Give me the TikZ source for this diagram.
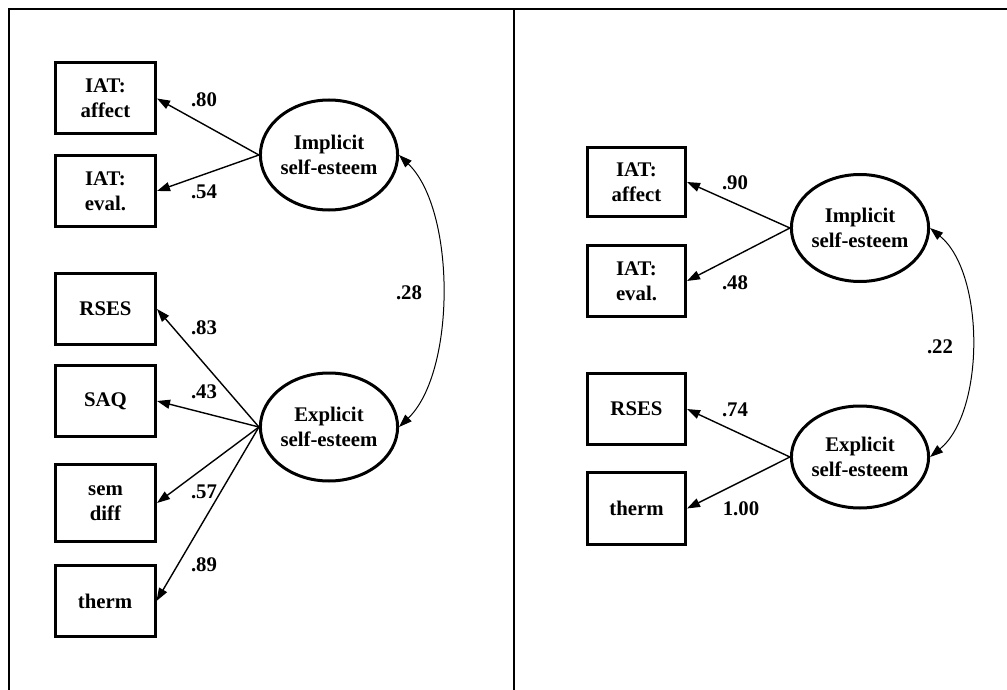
\documentclass[tikz,border=0pt]{standalone}
\usepackage{fontspec}
\setmainfont{Liberation Serif}
\usetikzlibrary{arrows.meta,shapes.geometric}
\begin{document}
\begin{tikzpicture}[x=1pt,y=-1pt,
  font=\fontsize{20.8}{25}\selectfont\bfseries,
  obs/.style={draw,line width=3pt,minimum width=100pt,minimum height=71pt,inner sep=0pt,align=center},
  lat/.style={draw,ellipse,line width=3pt,minimum width=125pt,minimum height=108pt,inner sep=0pt,align=center},
  load/.style={line width=1.4pt,-{Triangle[length=13pt,width=9pt]}},
  cov/.style={line width=1pt,{Triangle[length=13pt,width=9pt]}-{Triangle[length=13pt,width=9pt]}},
  frame/.style={line width=1.3pt},
  lbl/.style={inner sep=0pt}]
\useasboundingbox (0,0) rectangle (1007,690);
% frame
\coordinate (tl) at (9,9);
\coordinate (tr) at (1007,9);
\coordinate (bl) at (9,690);
\coordinate (mt) at (514,9);
\coordinate (mb) at (514,690);
\draw[frame] (bl) -- (tl) -- (tr);
\draw[frame] (mt) -- (mb);
% left panel
\node[obs] (la) at (105.5,98.5) {IAT:\\affect};
\node[obs] (le) at (105.5,191) {IAT:\\eval.};
\node[obs] (lr) at (105.5,309) {RSES};
\node[obs] (ls) at (105.5,401) {SAQ};
\node[obs,minimum height=77pt] (ld) at (105.5,503) {sem\\diff};
\node[obs] (lt) at (105,601) {therm};
\node[lat,minimum height=110pt] (li) at (329,155) {Implicit\\self-esteem};
\node[lat] (lx) at (329,427) {Explicit\\self-esteem};
\draw[load] (li.west) -- (la.east);
\draw[load] (li.west) -- (le.east);
\draw[load] (lx.west) -- (lr.east);
\draw[load] (lx.west) -- (ls.east);
\draw[load] (lx.west) -- (ld.east);
\draw[load] (lx.west) -- (lt.east);
\draw[cov] (li.east) .. controls +(57,55) and +(57,-55) .. (lx.east);
\node[lbl] (l80) at (204,100) {.80};
\node[lbl] (l54) at (204,192) {.54};
\node[lbl] (l83) at (204,328) {.83};
\node[lbl] (l43) at (204,392) {.43};
\node[lbl] (l57) at (204,492) {.57};
\node[lbl] (l89) at (204,565) {.89};
\node[lbl] (l28) at (409,293) {.28};
% right panel
\node[obs,minimum width=98pt,minimum height=69pt] (ra) at (636.5,182) {IAT:\\affect};
\node[obs,minimum width=98pt] (re) at (636.5,281) {IAT:\\eval.};
\node[obs,minimum width=98pt] (rr) at (636.5,409) {RSES};
\node[obs,minimum width=98pt,minimum height=72pt] (rt) at (636.5,508.5) {therm};
\node[lat,minimum height=107pt] (ri) at (860,228) {Implicit\\self-esteem};
\node[lat,minimum height=102pt] (rx) at (860,457) {Explicit\\self-esteem};
\draw[load] (ri.west) -- (ra.east);
\draw[load] (ri.west) -- (re.east);
\draw[load] (rx.west) -- (rr.east);
\draw[load] (rx.west) -- (rt.east);
\draw[cov] (ri.east) .. controls +(55,45) and +(55,-45) .. (rx.east);
\node[lbl] (r90) at (735,183) {.90};
\node[lbl] (r48) at (735,283) {.48};
\node[lbl] (r74) at (735,410) {.74};
\node[lbl] (r100) at (741,509) {1.00};
\node[lbl] (r22) at (940,347) {.22};
\end{tikzpicture}
\end{document}
